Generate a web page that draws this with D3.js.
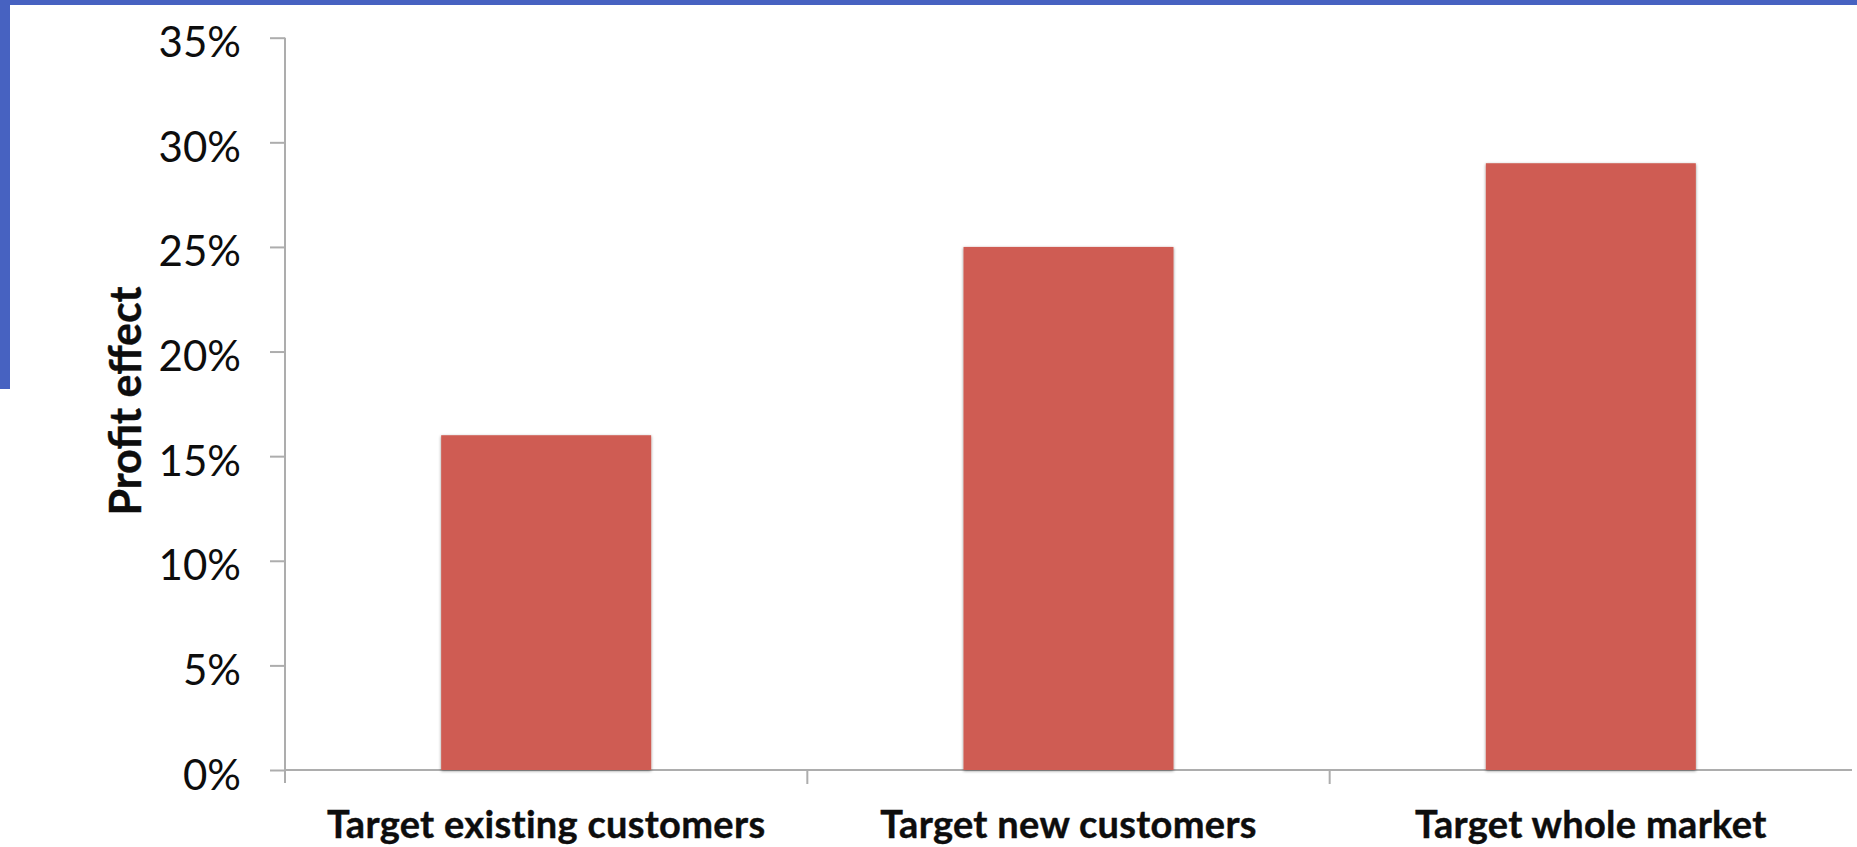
<!DOCTYPE html>
<html>
<head>
<meta charset="utf-8">
<script src="https://cdn.jsdelivr.net/npm/d3@7"></script>
<style>
  html, body { margin: 0; padding: 0; background: #ffffff; }
  svg { display: block; }
</style>
</head>
<body>
<svg id="chart" width="1857" height="847"></svg>
<script>
// Profit effect by targeting strategy
const categories = ["Target existing customers", "Target new customers", "Target whole market"];
const profitEffect = [0.16, 0.25, 0.29];
const yTicks = [0, 0.05, 0.10, 0.15, 0.20, 0.25, 0.30, 0.35];
const yTitle = "Profit effect";

const W = 1857, H = 847;
const plot = { left: 285, right: 1852, top: 37.7, bottom: 770 };

const svg = d3.select("#chart");

// slide frame accents
svg.append("rect").attr("x", 0).attr("y", 0).attr("width", W).attr("height", 5).attr("fill", "#4762c1");
svg.append("rect").attr("x", 0).attr("y", 0).attr("width", 10).attr("height", 389).attr("fill", "#4762c1");

const y = d3.scaleLinear().domain([0, 0.35]).range([plot.bottom, plot.top]);
const x = d3.scaleBand().domain(categories).range([plot.left, plot.right]).padding(0);

const defs = svg.append("defs");
const f = defs.append("filter").attr("id", "barShadow")
  .attr("x", "-10%").attr("y", "-10%").attr("width", "120%").attr("height", "120%");
f.append("feDropShadow").attr("dx", 0).attr("dy", 1).attr("stdDeviation", 1.6)
  .attr("flood-color", "#000").attr("flood-opacity", 0.45);

const axisColor = "#adadad";

// value axis
const yAxis = d3.axisLeft(y)
  .tickValues(yTicks)
  .tickSize(15)
  .tickSizeOuter(0)
  .tickPadding(29)
  .tickFormat(d3.format(".0%"));

const gy = svg.append("g")
  .attr("transform", `translate(${plot.left},0)`)
  .call(yAxis);
gy.select(".domain").remove();
gy.selectAll(".tick line").attr("stroke", axisColor).attr("stroke-width", 2);
gy.selectAll(".tick text")
  .attr("fill", "#0d0d0d")
  .attr("font-family", "Lato, 'Open Sans', sans-serif")
  .attr("font-size", 42)
  .attr("dy", null)
  .attr("y", 19)
  .attr("dominant-baseline", "auto");

// vertical axis line, running slightly below zero
svg.append("line")
  .attr("x1", plot.left).attr("x2", plot.left)
  .attr("y1", y(0.35)).attr("y2", plot.bottom + 13)
  .attr("stroke", axisColor).attr("stroke-width", 2);

// category axis
svg.append("line")
  .attr("x1", plot.left).attr("x2", plot.right)
  .attr("y1", plot.bottom).attr("y2", plot.bottom)
  .attr("stroke", axisColor).attr("stroke-width", 2);

svg.append("g").selectAll("line.cat-tick")
  .data(categories.slice(1))
  .join("line")
  .attr("class", "cat-tick")
  .attr("x1", d => x(d)).attr("x2", d => x(d))
  .attr("y1", plot.bottom).attr("y2", plot.bottom + 14)
  .attr("stroke", axisColor).attr("stroke-width", 2);

// bars
const barW = x.bandwidth() * 0.402;
svg.append("g").selectAll("rect.bar")
  .data(categories.map((c, i) => ({ c, v: profitEffect[i] })))
  .join("rect")
  .attr("class", "bar")
  .attr("x", d => x(d.c) + (x.bandwidth() - barW) / 2)
  .attr("y", d => y(d.v))
  .attr("width", barW)
  .attr("height", d => y(0) - y(d.v))
  .attr("fill", "#cf5c52")
  .attr("filter", "url(#barShadow)");

// category labels
svg.append("g").selectAll("text.cat")
  .data(categories)
  .join("text")
  .attr("class", "cat")
  .attr("x", d => x(d) + x.bandwidth() / 2)
  .attr("y", 838)
  .attr("text-anchor", "middle")
  .attr("font-family", "Lato, 'Open Sans', sans-serif")
  .attr("font-weight", 700)
  .attr("font-size", 38)
  .attr("letter-spacing", 0.3)
  .attr("fill", "#0d0d0d")
  .attr("stroke", "#0d0d0d")
  .attr("stroke-width", 0.4)
  .text(d => d);

// axis title
svg.append("text")
  .attr("transform", `translate(141,401) rotate(-90)`)
  .attr("text-anchor", "middle")
  .attr("font-family", "Lato, 'Open Sans', sans-serif")
  .attr("font-weight", 700)
  .attr("font-size", 43)
  .attr("fill", "#0d0d0d")
  .attr("stroke", "#0d0d0d")
  .attr("stroke-width", 0.4)
  .text(yTitle);
</script>
</body>
</html>
